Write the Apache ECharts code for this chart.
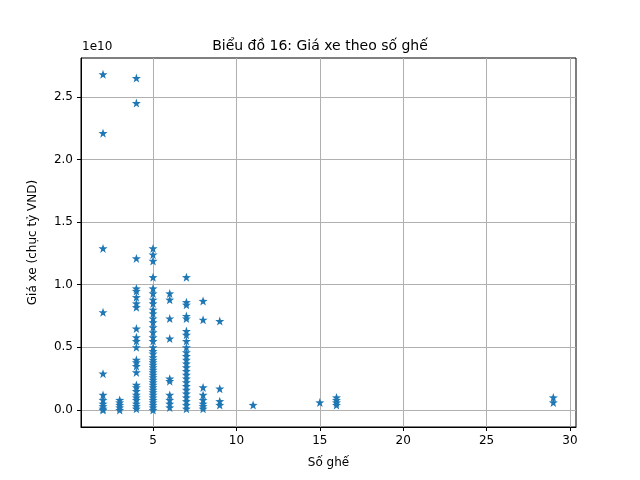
<!DOCTYPE html>
<html><head><meta charset="utf-8">
<script src="https://cdn.jsdelivr.net/npm/echarts@6/dist/echarts.min.js"></script>
<style>html,body{margin:0;background:#fff}#c{width:640px;height:480px}</style>
</head><body><div id="c"></div>
<script>
// prices in units of 1e10 VND, grouped by seat count
const seats = [2, 3, 4, 5, 6, 7, 8, 9, 11, 15, 16, 29];
const prices = [
  [2.68, 2.21, 1.29, 0.78, 0.29, 0.12, 0.08, 0.05, 0.03, 0.01, 0.0],
  [0.08, 0.06, 0.04, 0.02, 0.0],
  [2.65, 2.45, 1.21, 0.97, 0.95, 0.9, 0.85, 0.82, 0.65, 0.58, 0.55, 0.5, 0.4, 0.38, 0.35, 0.3, 0.2, 0.18, 0.15, 0.12, 0.1, 0.08, 0.05, 0.03, 0.01],
  [1.29, 1.24, 1.19, 1.06, 0.97, 0.93, 0.88, 0.85, 0.8, 0.77, 0.73, 0.7, 0.66, 0.62, 0.58, 0.55, 0.5, 0.47, 0.45, 0.42, 0.4, 0.38, 0.36, 0.34, 0.32, 0.3, 0.28, 0.26, 0.24, 0.22, 0.2, 0.18, 0.16, 0.14, 0.12, 0.1, 0.08, 0.06, 0.04, 0.02, 0.0],
  [0.93, 0.88, 0.73, 0.57, 0.25, 0.23, 0.12, 0.08, 0.05, 0.02],
  [1.06, 0.86, 0.84, 0.75, 0.73, 0.63, 0.6, 0.55, 0.5, 0.46, 0.43, 0.4, 0.37, 0.34, 0.31, 0.28, 0.25, 0.22, 0.19, 0.16, 0.13, 0.1, 0.07, 0.04, 0.01],
  [0.87, 0.72, 0.18, 0.12, 0.08, 0.05, 0.03, 0.01],
  [0.71, 0.17, 0.07, 0.04],
  [0.04],
  [0.06],
  [0.1, 0.08, 0.06, 0.04],
  [0.1, 0.06]
];
const yTicks = [0, 0.5, 1.0, 1.5, 2.0, 2.5];
const xTicks = [5, 10, 15, 20, 25, 30];

const points = [];
seats.forEach((s, i) => prices[i].forEach(p => points.push([s, p])));

const star = 'path://M0,-10 L2.35,-3.24 L9.51,-3.09 L3.8,1.24 L5.88,8.09 L0,4 L-5.88,8.09 L-3.8,1.24 L-9.51,-3.09 L-2.35,-3.24 Z';
const font = 'DejaVu Sans';
const chart = echarts.init(document.getElementById('c'));
chart.setOption({
  animation: false,
  textStyle: {fontFamily: font},
  title: {text: 'Biểu đồ 16: Giá xe theo số ghế', left: 'center', top: 34,
    textStyle: {fontFamily: font, fontSize: 14, fontWeight: 'normal', color: '#000'}},
  graphic: [{type: 'text', left: 82, top: 41, style: {text: '1e10', font: '12px DejaVu Sans', fill: '#000'}}],
  grid: {left: 81, right: 64, top: 58, bottom: 53, show: true, borderColor: '#000', borderWidth: 1},
  xAxis: {
    type: 'value', min: 0.68, max: 30.36,
    name: 'Số ghế', nameLocation: 'middle', nameGap: 30,
    nameTextStyle: {fontSize: 12, color: '#000'},
    axisLine: {onZero: false, lineStyle: {color: '#000'}},
    axisTick: {customValues: xTicks, length: 4, lineStyle: {color: '#000'}},
    axisLabel: {customValues: xTicks, color: '#000', fontSize: 12, showMinLabel: true, showMaxLabel: true},
    splitLine: {show: true, lineStyle: {color: '#b0b0b0'}}
  },
  yAxis: {
    type: 'value', min: -0.136, max: 2.81,
    name: 'Giá xe (chục tỷ VND)', nameLocation: 'middle', nameGap: 42,
    nameTextStyle: {fontSize: 12, color: '#000'},
    axisLine: {show: true, onZero: false, lineStyle: {color: '#000'}},
    axisTick: {show: true, customValues: yTicks, length: 4, lineStyle: {color: '#000'}},
    axisLabel: {customValues: yTicks, color: '#000', fontSize: 12, formatter: v => v.toFixed(1)},
    splitLine: {show: true, lineStyle: {color: '#b0b0b0'}}
  },
  series: [{
    type: 'scatter', data: points, symbol: star, symbolSize: 9,
    itemStyle: {color: '#1f77b4', opacity: 1}
  }]
});
</script></body></html>
